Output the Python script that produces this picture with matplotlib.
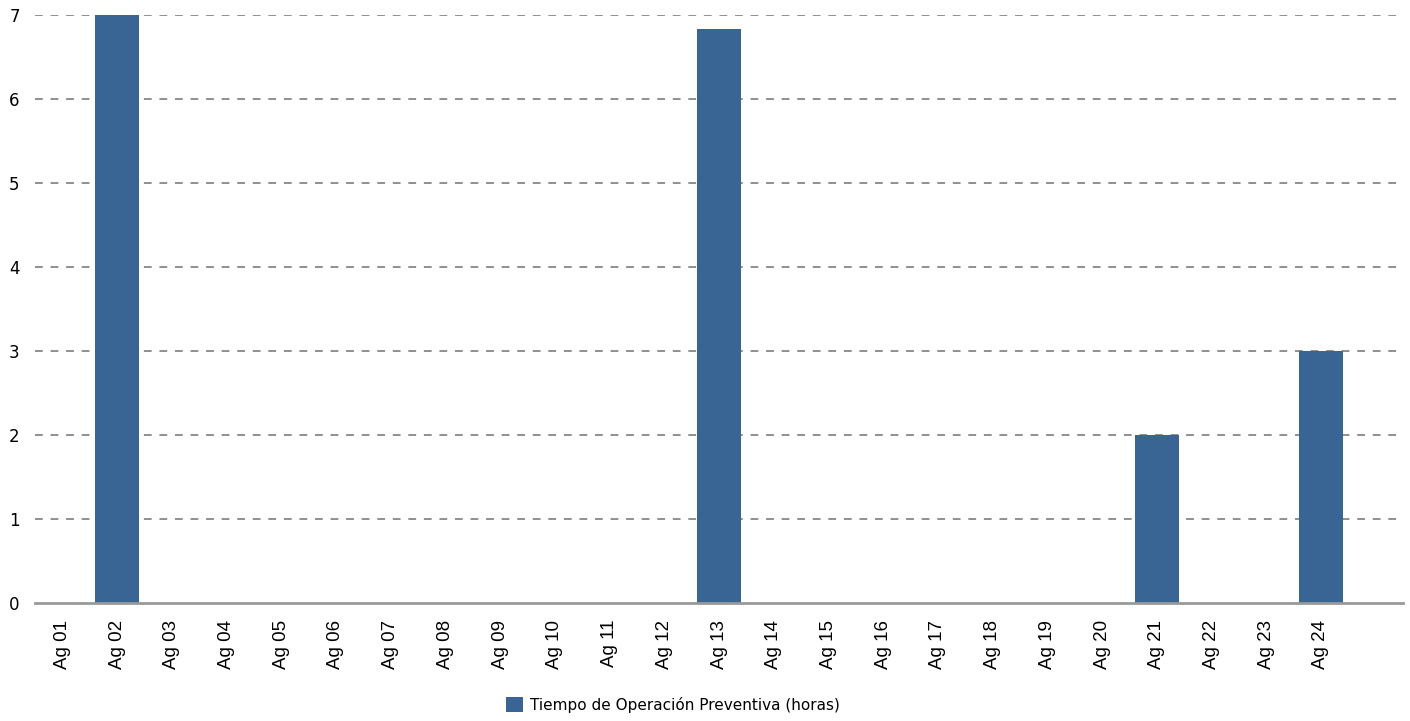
import matplotlib
matplotlib.use("Agg")
import matplotlib.pyplot as plt
from matplotlib.patches import Patch

categories = [f"Ag {i:02d}" for i in range(1, 25)]
values = [0, 7, 0, 0, 0, 0, 0, 0, 0, 0, 0, 0, 6.83, 0, 0, 0, 0, 0, 0, 0, 2, 0, 0, 3]
series_name = "Tiempo de Operación Preventiva (horas)"
yticks = [0, 1, 2, 3, 4, 5, 6, 7]

bar_color = "#386594"

fig = plt.figure(figsize=(14.1, 7.21), dpi=100)
ax = fig.add_axes([35/1410, 1 - 603/721, (1403-35)/1410, (603-15)/721])

x = list(range(len(categories)))
ax.bar(x, values, width=0.8, color=bar_color, zorder=3)

ax.set_xlim(-0.5, len(categories) + 0.5)
ax.set_ylim(0, 7)
ax.set_yticks(yticks)
ax.set_yticklabels([str(t) for t in yticks], fontsize=12, family="DejaVu Sans")
ax.set_xticks(x)
ax.set_xticklabels(categories, rotation=90, fontsize=13.5, family="Liberation Sans")
ax.tick_params(axis="both", length=0)
ax.tick_params(axis="y", pad=11)
ax.tick_params(axis="x", pad=12)

for t in yticks[1:]:
    ax.axhline(t, color="#8f8f8f", lw=1.4, ls=(0, (4, 4)), zorder=1)

for s in ["top", "right", "left"]:
    ax.spines[s].set_visible(False)
ax.spines["bottom"].set_color("#999999")
ax.spines["bottom"].set_linewidth(2)
ax.spines["bottom"].set_zorder(4)

handle = Patch(facecolor=bar_color, edgecolor="none")
fig.legend([handle], [series_name], loc="center", bbox_to_anchor=(673/1410, 1 - 705/721),
           frameon=False, handlelength=1.1, handleheight=1.1, handletextpad=0.5,
           prop={"family": "DejaVu Sans", "size": 11})

fig.savefig("out.png", dpi=100)
